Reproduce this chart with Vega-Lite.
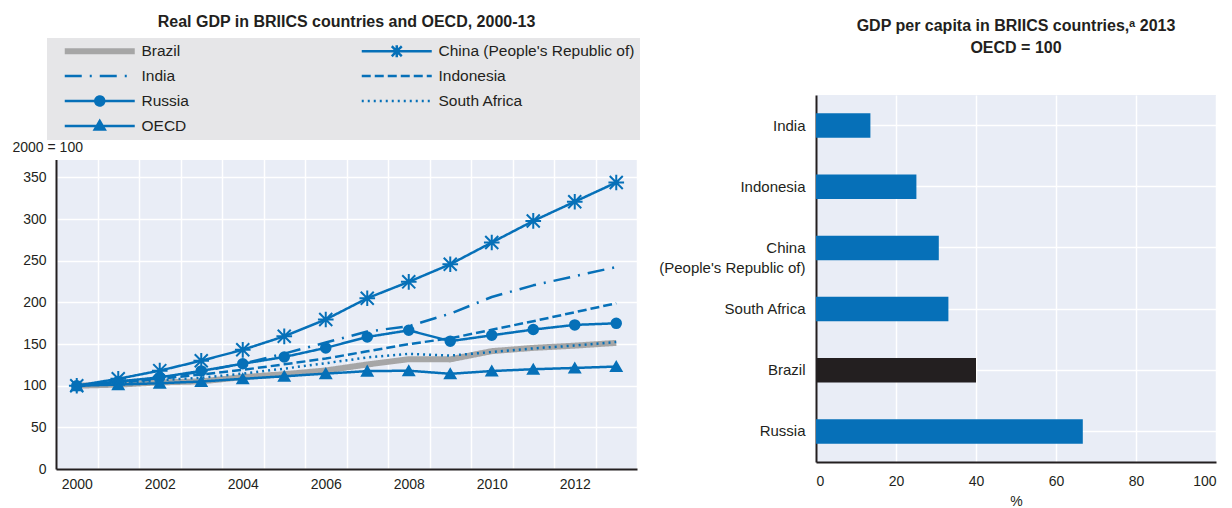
{
  "$schema": "https://vega.github.io/schema/vega-lite/v6.json",
  "padding": {"left": 12, "top": 14, "right": 2, "bottom": 0},
  "background": "white",
  "spacing": 0,
  "config": {
    "font": "Liberation Sans",
    "view": {"stroke": null, "fill": "#E9EDF6"},
    "title": {"fontSize": 16, "fontWeight": "bold", "color": "#231F20", "anchor": "middle", "font": "Liberation Sans"},
    "axis": {
      "labelFontSize": 14, "labelColor": "#231F20", "labelFont": "Liberation Sans",
      "domainColor": "#231F20", "domainWidth": 2, "tickColor": "#231F20", "tickWidth": 1.5,
      "gridColor": "#FFFFFF", "gridWidth": 1.5, "gridOpacity": 1, "labelOverlap": false
    }
  },
  "datasets": {
    "gdp": [
      {"year": 2000, "series": "Brazil", "value": 100},
      {"year": 2001, "series": "Brazil", "value": 101.3},
      {"year": 2002, "series": "Brazil", "value": 104},
      {"year": 2003, "series": "Brazil", "value": 105.2},
      {"year": 2004, "series": "Brazil", "value": 110.3},
      {"year": 2005, "series": "Brazil", "value": 113.8},
      {"year": 2006, "series": "Brazil", "value": 118.3},
      {"year": 2007, "series": "Brazil", "value": 125.5},
      {"year": 2008, "series": "Brazil", "value": 131.8},
      {"year": 2009, "series": "Brazil", "value": 131.6},
      {"year": 2010, "series": "Brazil", "value": 141.5},
      {"year": 2011, "series": "Brazil", "value": 145.4},
      {"year": 2012, "series": "Brazil", "value": 148.1},
      {"year": 2013, "series": "Brazil", "value": 151.4},
      {"year": 2000, "series": "China (People's Republic of)", "value": 100},
      {"year": 2001, "series": "China (People's Republic of)", "value": 108.3},
      {"year": 2002, "series": "China (People's Republic of)", "value": 118.1},
      {"year": 2003, "series": "China (People's Republic of)", "value": 130},
      {"year": 2004, "series": "China (People's Republic of)", "value": 143.1},
      {"year": 2005, "series": "China (People's Republic of)", "value": 159.3},
      {"year": 2006, "series": "China (People's Republic of)", "value": 179.5},
      {"year": 2007, "series": "China (People's Republic of)", "value": 205},
      {"year": 2008, "series": "China (People's Republic of)", "value": 224.7},
      {"year": 2009, "series": "China (People's Republic of)", "value": 245.8},
      {"year": 2010, "series": "China (People's Republic of)", "value": 271.9},
      {"year": 2011, "series": "China (People's Republic of)", "value": 297.8},
      {"year": 2012, "series": "China (People's Republic of)", "value": 320.9},
      {"year": 2013, "series": "China (People's Republic of)", "value": 344},
      {"year": 2000, "series": "India", "value": 100},
      {"year": 2001, "series": "India", "value": 104.9},
      {"year": 2002, "series": "India", "value": 108.9},
      {"year": 2003, "series": "India", "value": 117},
      {"year": 2004, "series": "India", "value": 126.5},
      {"year": 2005, "series": "India", "value": 138.5},
      {"year": 2006, "series": "India", "value": 151.8},
      {"year": 2007, "series": "India", "value": 165},
      {"year": 2008, "series": "India", "value": 171.5},
      {"year": 2009, "series": "India", "value": 186.5},
      {"year": 2010, "series": "India", "value": 206.5},
      {"year": 2011, "series": "India", "value": 220.5},
      {"year": 2012, "series": "India", "value": 231.5},
      {"year": 2013, "series": "India", "value": 242.5},
      {"year": 2000, "series": "Indonesia", "value": 100},
      {"year": 2001, "series": "Indonesia", "value": 103.6},
      {"year": 2002, "series": "Indonesia", "value": 108.3},
      {"year": 2003, "series": "Indonesia", "value": 113.4},
      {"year": 2004, "series": "Indonesia", "value": 119},
      {"year": 2005, "series": "Indonesia", "value": 125.7},
      {"year": 2006, "series": "Indonesia", "value": 132.6},
      {"year": 2007, "series": "Indonesia", "value": 141.3},
      {"year": 2008, "series": "Indonesia", "value": 149.9},
      {"year": 2009, "series": "Indonesia", "value": 156.9},
      {"year": 2010, "series": "Indonesia", "value": 167.2},
      {"year": 2011, "series": "Indonesia", "value": 177.4},
      {"year": 2012, "series": "Indonesia", "value": 188.2},
      {"year": 2013, "series": "Indonesia", "value": 199},
      {"year": 2000, "series": "Russia", "value": 100},
      {"year": 2001, "series": "Russia", "value": 105.1},
      {"year": 2002, "series": "Russia", "value": 110},
      {"year": 2003, "series": "Russia", "value": 117.8},
      {"year": 2004, "series": "Russia", "value": 126.4},
      {"year": 2005, "series": "Russia", "value": 134.5},
      {"year": 2006, "series": "Russia", "value": 145.4},
      {"year": 2007, "series": "Russia", "value": 158.5},
      {"year": 2008, "series": "Russia", "value": 166.5},
      {"year": 2009, "series": "Russia", "value": 153.5},
      {"year": 2010, "series": "Russia", "value": 160.5},
      {"year": 2011, "series": "Russia", "value": 167.4},
      {"year": 2012, "series": "Russia", "value": 173},
      {"year": 2013, "series": "Russia", "value": 174.9},
      {"year": 2000, "series": "South Africa", "value": 100},
      {"year": 2001, "series": "South Africa", "value": 102.7},
      {"year": 2002, "series": "South Africa", "value": 106.5},
      {"year": 2003, "series": "South Africa", "value": 109.6},
      {"year": 2004, "series": "South Africa", "value": 114.5},
      {"year": 2005, "series": "South Africa", "value": 120.5},
      {"year": 2006, "series": "South Africa", "value": 127},
      {"year": 2007, "series": "South Africa", "value": 133.9},
      {"year": 2008, "series": "South Africa", "value": 138.3},
      {"year": 2009, "series": "South Africa", "value": 136.2},
      {"year": 2010, "series": "South Africa", "value": 140.4},
      {"year": 2011, "series": "South Africa", "value": 144.8},
      {"year": 2012, "series": "South Africa", "value": 148.2},
      {"year": 2013, "series": "South Africa", "value": 152.5},
      {"year": 2000, "series": "OECD", "value": 100},
      {"year": 2001, "series": "OECD", "value": 101.3},
      {"year": 2002, "series": "OECD", "value": 103},
      {"year": 2003, "series": "OECD", "value": 105},
      {"year": 2004, "series": "OECD", "value": 108.3},
      {"year": 2005, "series": "OECD", "value": 111.3},
      {"year": 2006, "series": "OECD", "value": 114.5},
      {"year": 2007, "series": "OECD", "value": 117.5},
      {"year": 2008, "series": "OECD", "value": 118},
      {"year": 2009, "series": "OECD", "value": 114.3},
      {"year": 2010, "series": "OECD", "value": 117.6},
      {"year": 2011, "series": "OECD", "value": 119.8},
      {"year": 2012, "series": "OECD", "value": 121.3},
      {"year": 2013, "series": "OECD", "value": 123}
    ],
    "percap": [
      {"country": "India", "value": 13.6},
      {"country": "Indonesia", "value": 25.1},
      {"country": "China (People's Republic of)", "value": 30.7},
      {"country": "South Africa", "value": 33.1},
      {"country": "Brazil", "value": 40.0},
      {"country": "Russia", "value": 66.7}
    ]
  },
  "hconcat": [
    {
      "width": 581,
      "height": 374,
      "title": {"text": "Real GDP in BRIICS countries and OECD, 2000-13", "offset": 65},
      "data": {"name": "gdp"},
      "resolve": {"axis": {"x": "independent"}},
      "layer": [
        {
          "mark": {"type": "line", "strokeJoin": "round"},
          "encoding": {
            "x": {
              "field": "year", "type": "quantitative",
              "scale": {"domain": [1999.5, 2013.5], "nice": false, "zero": false},
              "axis": {
                "title": null, "grid": true, "labelAngle": 0, "labelFlush": false,
                "values": [1999.5, 2000.5, 2001.5, 2002.5, 2003.5, 2004.5, 2005.5, 2006.5, 2007.5, 2008.5, 2009.5, 2010.5, 2011.5, 2012.5, 2013.5],
                "labelExpr": "(datum.value + 0.5) % 2 == 0 && datum.value < 2013 ? format(datum.value + 0.5, 'd') : ''",
                "labelOffset": 20.75, "ticks": false, "labelPadding": 8
              }
            },
            "y": {
              "field": "value", "type": "quantitative",
              "scale": {"domain": [0, 449], "nice": false},
              "axis": {
                "values": [0, 50, 100, 150, 200, 250, 300, 350],
                "title": null, "ticks": false, "labelPadding": 10, "grid": true
              }
            },
            "color": {
              "field": "series", "type": "nominal",
              "scale": {
                "domain": ["Brazil", "China (People's Republic of)", "India", "Indonesia", "Russia", "South Africa", "OECD"],
                "range": ["#A6A6A6", "#0670B8", "#0670B8", "#0670B8", "#0670B8", "#0670B8", "#0670B8"]
              },
              "legend": {
                "orient": "none", "legendX": -9, "legendY": -57,
                "title": null, "columns": 2, "direction": "horizontal",
                "fillColor": "#E6E6E8", "padding": 5, "rowPadding": 8, "columnPadding": 160,
                "clipHeight": 16, "symbolSize": 100, "symbolOffset": 40, "labelOffset": 34,
                "labelFontSize": 15.5, "labelColor": "#231F20", "labelFont": "Liberation Sans",
                "labelLimit": 400,
                "encode": {
                  "symbols": {
                    "update": {
                      "shape": {"signal": "['M-7,0L7,0', 'M-7,0L7,0M-1,-1L1,1M-1,1L1,-1M0,-1.2L0,1.2', 'M-7,0L7,0', 'M-7,0L7,0', 'M-7,0L7,0M0.9,0A0.9,0.9 0 1,1 -0.9,0A0.9,0.9 0 1,1 0.9,0Z', 'M-7,0L7,0', 'M-7,0L7,0M-1,0.7L0,-1L1,0.7Z'][datum.index]"},
                      "stroke": {"signal": "datum.index == 0 ? '#A6A6A6' : '#0670B8'"},
                      "fill": {"signal": "datum.index == 0 ? '#A6A6A6' : '#0670B8'"},
                      "strokeWidth": {"signal": "datum.index == 0 ? 6 : 2.5"},
                      "strokeDash": {"signal": "[[1,0],[1,0],[17,8,2,8],[9,4],[1,0],[2,4],[1,0]][datum.index]"},
                      "opacity": {"value": 1}
                    }
                  }
                }
              }
            },
            "strokeDash": {
              "field": "series", "type": "nominal",
              "scale": {
                "domain": ["Brazil", "China (People's Republic of)", "India", "Indonesia", "Russia", "South Africa", "OECD"],
                "range": [[1, 0], [1, 0], [17, 8, 2, 8], [9, 4], [1, 0], [2, 4], [1, 0]]
              },
              "legend": null
            },
            "strokeWidth": {"condition": {"test": "datum.series == 'Brazil'", "value": 6}, "value": 2.5}
          }
        },
        {
          "transform": [{"filter": {"field": "series", "oneOf": ["China (People's Republic of)", "Russia", "OECD"]}}],
          "mark": {"type": "point", "filled": true, "fill": "#0670B8", "stroke": "#0670B8", "strokeWidth": 2, "opacity": 1},
          "encoding": {
            "x": {
              "field": "year", "type": "quantitative",
              "axis": {
                "orient": "top", "title": "2000 = 100", "labels": false, "ticks": false, "domain": false, "grid": false,
                "minExtent": 0, "maxExtent": 0,
                "titleAngle": 0, "titleAlign": "left", "titleBaseline": "bottom",
                "titleX": -44, "titleY": 59, "titleFontSize": 14, "titleFontWeight": "normal", "titleColor": "#231F20",
                "zindex": 2
              }
            },
            "y": {"field": "value", "type": "quantitative"},
            "shape": {
              "field": "series", "type": "nominal",
              "scale": {
                "domain": ["China (People's Republic of)", "Russia", "OECD"],
                "range": ["M-1,-1L1,1M-1,1L1,-1M0,-1.2L0,1.2M-1.2,0L1.2,0", "circle", "triangle-up"]
              },
              "legend": null
            },
            "size": {"condition": [{"test": "datum.series == 'Russia'", "value": 90}, {"test": "datum.series == 'OECD'", "value": 110}], "value": 170}
          }
        },
        {
          "data": {"values": [{}]},
          "mark": {"type": "rect", "fill": "#FFFFFF"},
          "encoding": {
            "x": {"value": -2},
            "x2": {"value": "width"},
            "y": {"datum": 449, "type": "quantitative"},
            "y2": {"datum": 371}
          }
        }
      ]
    },
    {
      "width": 400,
      "height": 367,
      "title": {"text": ["GDP per capita in BRIICS countries,ᵃ 2013", "OECD = 100"], "lineHeight": 22, "offset": 39},
      "data": {"name": "percap"},
      "mark": {"type": "bar"},
      "encoding": {
        "y": {
          "field": "country", "type": "nominal",
          "sort": ["India", "Indonesia", "China (People's Republic of)", "South Africa", "Brazil", "Russia"],
          "scale": {"paddingInner": 0.6, "paddingOuter": 0.3},
          "axis": {
            "title": null, "grid": true, "ticks": false, "labelPadding": 11,
            "labelFontSize": 15, "labelLimit": 300, "labelLineHeight": 20,
            "labelExpr": "indexof(datum.value, 'China') == 0 ? ['China', substring(datum.value, 6)] : datum.value"
          }
        },
        "x": {
          "field": "value", "type": "quantitative",
          "scale": {"domain": [0, 100], "nice": false},
          "axis": {
            "values": [0, 20, 40, 60, 80, 100], "grid": true, "ticks": false, "labelPadding": 12,
            "title": "%", "titleFontSize": 14, "titleFontWeight": "normal", "titleColor": "#231F20", "titlePadding": 6
          }
        },
        "color": {"condition": {"test": "datum.country == 'Brazil'", "value": "#231F20"}, "value": "#0670B8"}
      }
    }
  ]
}
